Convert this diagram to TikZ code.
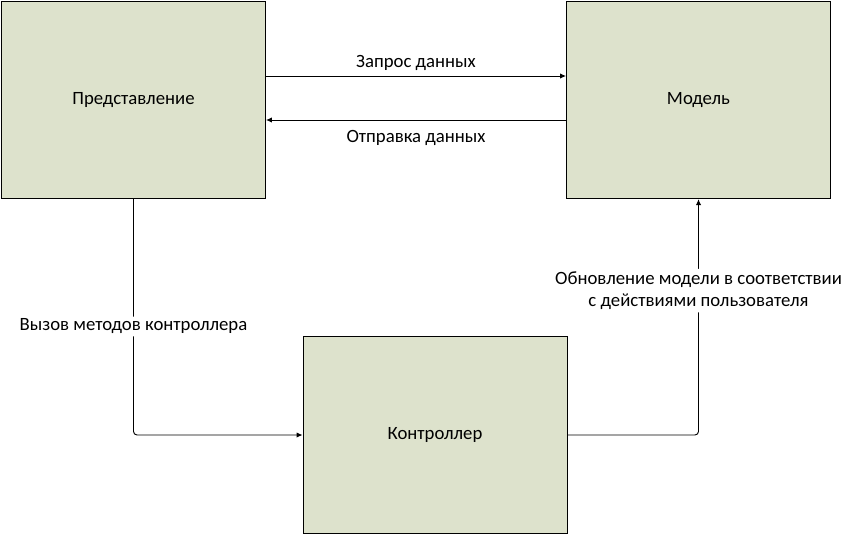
\documentclass[tikz,border=0pt]{standalone}
\usepackage{fontspec}
\setmainfont{Carlito}
\usetikzlibrary{positioning,arrows.meta}
\definecolor{boxfill}{RGB}{221,226,204}

\begin{document}
\begin{tikzpicture}[x=0.03cm,y=-0.03cm,-{Latex[length=5pt,width=4.5pt]},line width=0.8pt,font=\fontsize{16}{19.6}\selectfont]
  \tikzstyle{block}=[rectangle,draw,fill=boxfill,minimum width=7.92cm,minimum height=5.92cm,inner sep=0pt]
  \tikzstyle{lbl}=[fill=white,inner sep=2pt,align=center]

  \useasboundingbox (0,0) rectangle (853,535);

  \node[block] (view) at (133.5,100) {Представление};
  \node[block] (model) at (698.5,100) {Модель};
  \node[block] (ctrl) at (435,435) {Контроллер};

  \draw (view.east |- 0,76) -- node[above,inner sep=4pt] {Запрос данных} (model.west |- 0,76);
  \draw (model.west |- 0,120) -- node[below,inner sep=8pt] {Отправка данных} (view.east |- 0,120);
  \draw[rounded corners=3pt] (view.south) |- node[lbl,pos=0.27] {Вызов методов контроллера} (ctrl.west);
  \draw[rounded corners=3pt] (ctrl.east) -| node[lbl,pos=0.806] {Обновление модели в соответствии\\с действиями пользователя} (model.south);

\end{tikzpicture}
\end{document}
